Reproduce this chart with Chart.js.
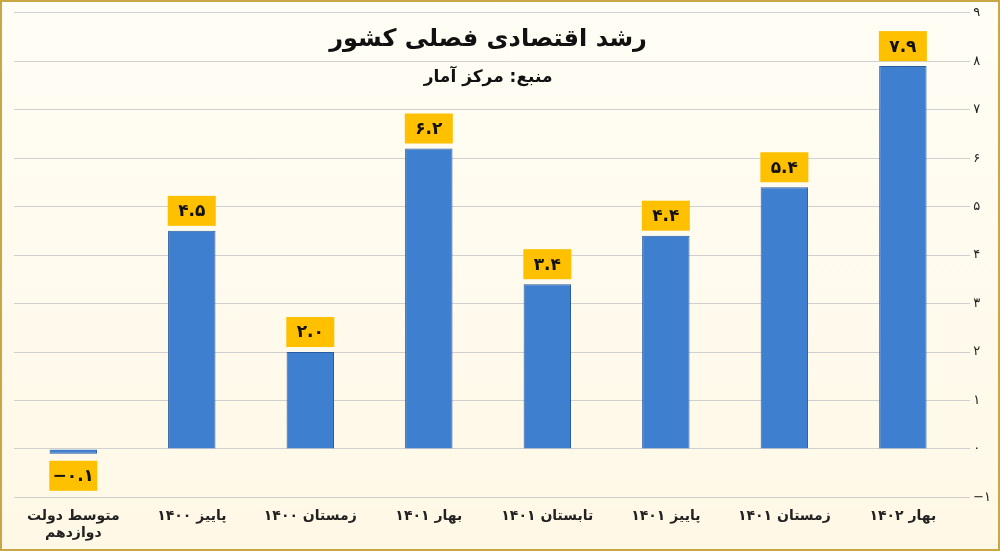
<!DOCTYPE html>
<html>
<head>
<meta charset="utf-8">
<script src="https://cdn.jsdelivr.net/npm/chart.js@4"></script>
<style>
  body { margin: 0; background: #fff; }
  #wrap { width: 1000px; height: 551px; box-sizing: border-box; border: 2px solid #c9a646; background: linear-gradient(#fffdf5, #fff8e6); }
</style>
</head>
<body>
<div id="wrap"><canvas id="growthChart" width="996" height="547"></canvas></div>
<script>
const categories = [
    ['متوسط دولت', 'دوازدهم'], 'پاییز ۱۴۰۰', 'زمستان ۱۴۰۰', 'بهار ۱۴۰۱',
    'تابستان ۱۴۰۱', 'پاییز ۱۴۰۱', 'زمستان ۱۴۰۱', 'بهار ۱۴۰۲'
];
const growth = [-0.1, 4.5, 2.0, 6.2, 3.4, 4.4, 5.4, 7.9];
const chartTitle = 'رشد اقتصادی فصلی کشور';
const chartSource = 'منبع: مرکز آمار';

const faDigits = '۰۱۲۳۴۵۶۷۸۹';
function toFa(s) {
    return String(s).replace(/\d/g, d => faDigits[d]).replace('-', '−');
}

// value boxes above/below bars + title text
const labelsPlugin = {
    id: 'valueBoxes',
    afterDatasetsDraw(chart) {
        const ctx = chart.ctx;
        const meta = chart.getDatasetMeta(0);
        ctx.save();
        ctx.font = 'bold 17px "DejaVu Sans", sans-serif';
        ctx.textAlign = 'center';
        ctx.textBaseline = 'middle';
        meta.data.forEach((bar, i) => {
            const v = growth[i];
            const text = toFa(v.toFixed(1));
            const w = 48, h = 30;
            const cy = v >= 0 ? bar.y - 20 : bar.y + 22;
            ctx.fillStyle = '#ffc000';
            ctx.fillRect(bar.x - w / 2, cy - h / 2, w, h);
            ctx.fillStyle = '#111';
            ctx.fillText(text, bar.x, cy + 1);
        });
        const mid = (chart.chartArea.left + chart.chartArea.right) / 2;
        ctx.font = 'bold 24px "DejaVu Sans", sans-serif';
        ctx.fillText(chartTitle, mid, 38);
        ctx.font = 'bold 17px "DejaVu Sans", sans-serif';
        ctx.fillText(chartSource, mid, 76);
        ctx.restore();
    }
};

const ctx = document.getElementById('growthChart');
new Chart(ctx, {
    type: 'bar',
    data: {
        labels: categories,
        datasets: [{
            data: growth,
            backgroundColor: (c) => {
                const el = c.element;
                const x = el && el.x, w = el && el.width;
                if (!Number.isFinite(x) || !Number.isFinite(w) || w <= 0) return '#3f7fd0';
                const g = c.chart.ctx.createLinearGradient(x - w / 2, 0, x + w / 2, 0);
                g.addColorStop(0, '#2f66b3');
                g.addColorStop(0.45, '#4a8be0');
                g.addColorStop(1, '#2b5fa8');
                return g;
            },
            borderColor: '#2a5a9e',
            borderWidth: 1,
            barPercentage: 0.4,
            categoryPercentage: 1
        }]
    },
    options: {
        responsive: false,
        animation: false,
        layout: { padding: { left: 12, right: 4, top: 6, bottom: 4 } },
        scales: {
            y: {
                position: 'right',
                min: -1,
                max: 9,
                ticks: {
                    stepSize: 1,
                    color: '#222',
                    font: { size: 13, family: '"DejaVu Sans", sans-serif' },
                    callback: v => toFa(v)
                },
                grid: { color: '#d0d0d0', drawTicks: true },
                border: { display: false }
            },
            x: {
                grid: { display: false },
                border: { display: false },
                ticks: {
                    color: '#222',
                    font: { size: 14, weight: 'bold', family: '"DejaVu Sans", sans-serif' },
                    maxRotation: 0
                }
            }
        },
        plugins: {
            legend: { display: false },
            tooltip: { enabled: false }
        }
    },
    plugins: [labelsPlugin]
});
</script>
</body>
</html>
